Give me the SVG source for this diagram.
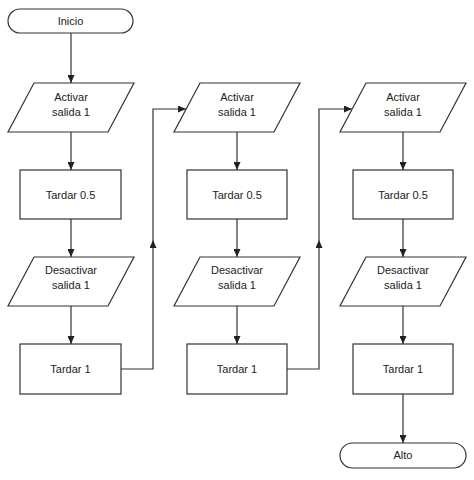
<svg xmlns="http://www.w3.org/2000/svg" width="474" height="480" viewBox="0 0 474 480">
<style>
.s{fill:#fff;stroke:#333;stroke-width:1.2}
.c{fill:none;stroke:#333;stroke-width:1.2}
text{font-family:"Liberation Sans",Arial,sans-serif;font-size:11px;fill:#222;text-anchor:middle}
</style>
<defs>
<marker id="a" viewBox="0 0 8 7" refX="8" refY="3.5" markerWidth="8" markerHeight="7" markerUnits="userSpaceOnUse" orient="auto">
<path d="M0,0 L8,3.5 L0,7 z" fill="#222"/>
</marker>
</defs>
<rect width="474" height="480" fill="#fff"/>
<g id="connectors">
<path class="c" d="M71,33 V83" marker-end="url(#a)"/>
<path class="c" d="M71,132 V170" marker-end="url(#a)"/>
<path class="c" d="M71,219 V257" marker-end="url(#a)"/>
<path class="c" d="M71,306 V344" marker-end="url(#a)"/>
<path class="c" d="M121,369 H153 V240" marker-end="url(#a)"/>
<path class="c" d="M153,240 V109 H186" marker-end="url(#a)"/>
<path class="c" d="M237,132 V170" marker-end="url(#a)"/>
<path class="c" d="M237,219 V257" marker-end="url(#a)"/>
<path class="c" d="M237,306 V344" marker-end="url(#a)"/>
<path class="c" d="M287,369 H319 V240" marker-end="url(#a)"/>
<path class="c" d="M319,240 V109 H352" marker-end="url(#a)"/>
<path class="c" d="M403,132 V170" marker-end="url(#a)"/>
<path class="c" d="M403,219 V257" marker-end="url(#a)"/>
<path class="c" d="M403,306 V344" marker-end="url(#a)"/>
<path class="c" d="M403,394 V443" marker-end="url(#a)"/>
</g>
<g id="inicio"><rect class="s" x="8" y="9" width="125" height="24" rx="12"/><text x="70.5" y="25">Inicio</text></g>
<g id="activar1"><polygon class="s" points="34,83 134,83 108,132 8,132"/><text x="71" y="101">Activar</text><text x="71" y="116">salida 1</text></g>
<g id="tardar05a"><rect class="s" x="20" y="170" width="101" height="49"/><text x="70.5" y="198.5">Tardar 0.5</text></g>
<g id="desactivar1"><polygon class="s" points="34,257 134,257 108,306 8,306"/><text x="71" y="274">Desactivar</text><text x="71" y="289">salida 1</text></g>
<g id="tardar1a"><rect class="s" x="20" y="344" width="101" height="50"/><text x="70.5" y="373">Tardar 1</text></g>
<g id="activar2"><polygon class="s" points="200,83 300,83 274,132 174,132"/><text x="237" y="101">Activar</text><text x="237" y="116">salida 1</text></g>
<g id="tardar05b"><rect class="s" x="187" y="170" width="100" height="49"/><text x="237" y="198.5">Tardar 0.5</text></g>
<g id="desactivar2"><polygon class="s" points="200,257 300,257 274,306 174,306"/><text x="237" y="274">Desactivar</text><text x="237" y="289">salida 1</text></g>
<g id="tardar1b"><rect class="s" x="187" y="344" width="100" height="50"/><text x="237" y="373">Tardar 1</text></g>
<g id="activar3"><polygon class="s" points="366,83 466,83 440,132 340,132"/><text x="403" y="101">Activar</text><text x="403" y="116">salida 1</text></g>
<g id="tardar05c"><rect class="s" x="353" y="170" width="100" height="49"/><text x="403" y="198.5">Tardar 0.5</text></g>
<g id="desactivar3"><polygon class="s" points="366,257 466,257 440,306 340,306"/><text x="403" y="274">Desactivar</text><text x="403" y="289">salida 1</text></g>
<g id="tardar1c"><rect class="s" x="353" y="344" width="100" height="50"/><text x="403" y="373">Tardar 1</text></g>
<g id="alto"><rect class="s" x="340" y="443" width="126" height="25" rx="12.5"/><text x="403" y="459">Alto</text></g>
</svg>
